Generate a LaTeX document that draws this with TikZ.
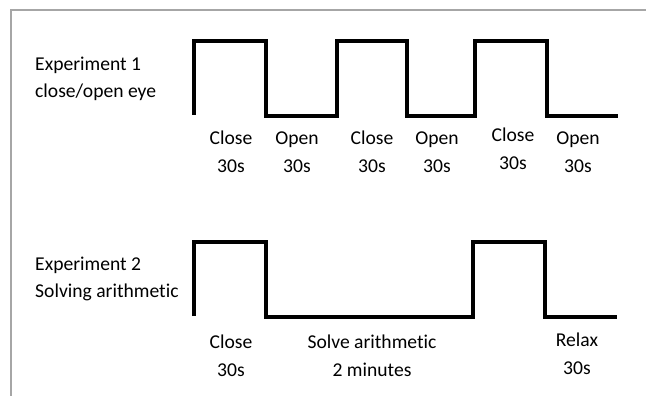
\documentclass[tikz,border=0pt]{standalone}
\usepackage{fontspec}
\setmainfont[Ligatures=NoCommon]{Carlito}
\begin{document}
\begin{tikzpicture}[x=1pt,y=-1pt,
  lbl/.style={inner sep=0pt,align=center,font=\fontsize{19.6}{28}\selectfont,text=black},
  side/.style={inner sep=0pt,align=left,font=\fontsize{19.6}{27}\selectfont,text=black,anchor=west},
  wave/.style={line width=3.6pt,black,line join=miter},
  frame/.style={line width=1.5pt,black!35}]
\useasboundingbox (0,0) rectangle (646,396);
\draw[frame] (11,396) -- (11,10) -- (646,10);
% Experiment 1
\node[side] (e1) at (35,79) {Experiment 1\\close/open eye};
\draw[wave] (194,115) -- (194,41) -- (266,41) -- (266,116) -- (337,116) -- (337,41)
  -- (407,41) -- (407,116) -- (475,116) -- (475,41) -- (547,41) -- (547,116) -- (618,116);
\node[lbl] (c1) at (231,152) {Close\\30s};
\node[lbl] (o1) at (297,152) {Open\\30s};
\node[lbl] (c2) at (372,152) {Close\\30s};
\node[lbl] (o2) at (437,152) {Open\\30s};
\node[lbl] (c3) at (513,149) {Close\\30s};
\node[lbl] (o3) at (578,152) {Open\\30s};
% Experiment 2
\node[side] (e2) at (35,279) {Experiment 2\\Solving arithmetic};
\draw[wave] (194,316) -- (194,242) -- (266,242) -- (266,317) -- (473,317) -- (473,242)
  -- (545,242) -- (545,317) -- (617,317);
\node[lbl] (c4) at (231,356) {Close\\30s};
\node[lbl] (s1) at (372,356) {Solve arithmetic\\2 minutes};
\node[lbl] (r1) at (577,354) {Relax\\30s};
\end{tikzpicture}
\end{document}
